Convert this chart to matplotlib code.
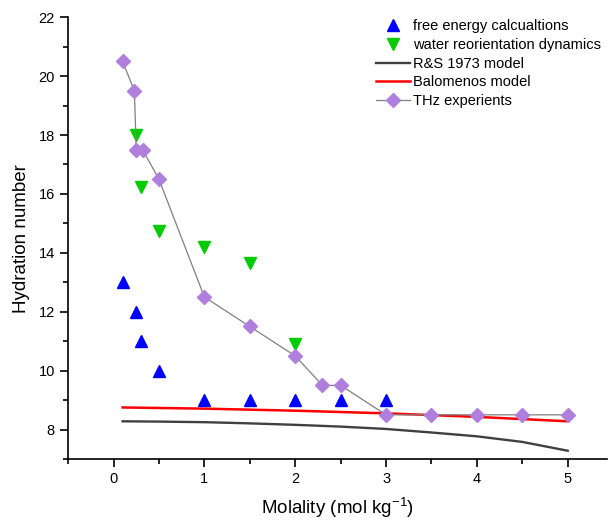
import matplotlib
matplotlib.use("Agg")
import matplotlib.pyplot as plt
from matplotlib.ticker import MultipleLocator

plt.rcParams['font.family'] = ['Liberation Sans', 'DejaVu Sans']
plt.rcParams['mathtext.fontset'] = 'custom'
plt.rcParams['mathtext.rm'] = 'Liberation Sans'
plt.rcParams['mathtext.default'] = 'rm'

# free energy calculations
fe_x = [0.1, 0.25, 0.3, 0.5, 1, 1.5, 2, 2.5, 3]
fe_y = [13, 12, 11, 10, 9, 9, 9, 9, 9]

# water reorientation dynamics
wr_x = [0.25, 0.3, 0.5, 1, 1.5, 2]
wr_y = [18.0, 16.25, 14.75, 14.2, 13.65, 10.9]

# R&S 1973 model
rs_x = [0.1, 0.5, 1, 1.5, 2, 2.5, 3, 3.5, 4, 4.5, 5]
rs_y = [8.28, 8.27, 8.25, 8.21, 8.16, 8.1, 8.02, 7.9, 7.77, 7.58, 7.28]

# Balomenos model
bm_x = [0.1, 1, 2, 3, 4, 5]
bm_y = [8.75, 8.71, 8.64, 8.55, 8.43, 8.28]

# THz experiments
thz_x = [0.1, 0.23, 0.25, 0.32, 0.5, 1, 1.5, 2, 2.3, 2.5, 3, 3.5, 4, 4.5, 5]
thz_y = [20.5, 19.5, 17.5, 17.5, 16.5, 12.5, 11.5, 10.5, 9.5, 9.5, 8.5, 8.5, 8.5, 8.5, 8.5]

fig = plt.figure(figsize=(6.08, 5.21), dpi=100)
ax = fig.add_axes([0.112, 0.119, 0.886, 0.848])

ax.plot(fe_x, fe_y, linestyle='none', marker='^', color='#0000FF', ms=9,
        label='free energy calcualtions')
ax.plot(wr_x, wr_y, linestyle='none', marker='v', color='#00CC00', ms=9,
        label='water reorientation dynamics')
ax.plot(rs_x, rs_y, color='#404040', lw=1.7, label='R&S 1973 model')
ax.plot(bm_x, bm_y, color='#FF0000', lw=1.8, label='Balomenos model')
ax.plot(thz_x, thz_y, color='#808080', lw=0.9, marker='D', ms=7,
        mfc='#B07FDE', mec='#B07FDE', label='THz experients')

ax.set_xlim(-0.5, 5.43)
ax.set_ylim(7, 22)
ax.xaxis.set_major_locator(MultipleLocator(1))
ax.xaxis.set_minor_locator(MultipleLocator(0.5))
ax.yaxis.set_major_locator(MultipleLocator(2))
ax.yaxis.set_minor_locator(MultipleLocator(1))
ax.tick_params(which='both', direction='out', width=1.2, labelsize=10.5)
ax.tick_params(which='major', length=6)
ax.tick_params(which='minor', length=3.5)

ax.spines['top'].set_visible(False)
ax.spines['right'].set_visible(False)
ax.spines['left'].set_linewidth(1.2)
ax.spines['bottom'].set_linewidth(1.2)

ax.set_xlabel('Molality (mol kg$^{-1}$)', fontsize=13.5, labelpad=7)
ax.set_ylabel('Hydration number', fontsize=13.5, labelpad=6)

ax.legend(loc='upper right', frameon=False, fontsize=10.5, handlelength=2.3,
          handletextpad=0.2, labelspacing=0.32, borderaxespad=0.0,
          bbox_to_anchor=(1.0, 1.008))

fig.savefig('out.png', dpi=100)
